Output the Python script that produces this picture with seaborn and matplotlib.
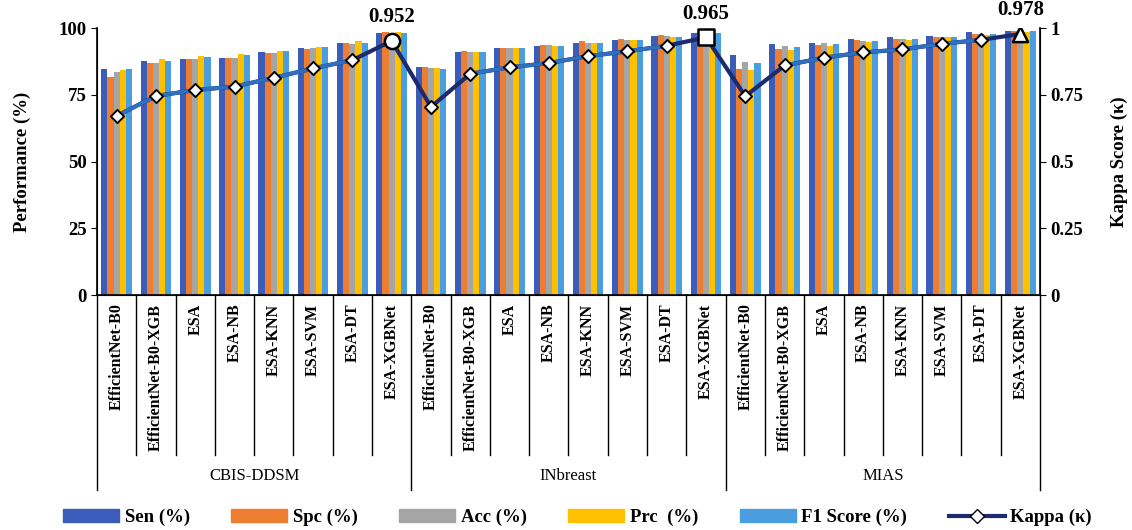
import numpy as np
import pandas as pd
import seaborn as sns
import matplotlib.pyplot as plt
from matplotlib.patches import Patch
from matplotlib.lines import Line2D
import matplotlib.transforms as mtransforms

datasets = ["CBIS-DDSM", "INbreast", "MIAS"]
models = ["EfficientNet-B0", "EfficientNet-B0-XGB", "ESA", "ESA-NB",
          "ESA-KNN", "ESA-SVM", "ESA-DT", "ESA-XGBNet"]
metrics = ["Sen (%)", "Spc (%)", "Acc (%)", "Prc  (%)", "F1 Score (%)"]

# values per dataset, rows = models, cols = Sen, Spc, Acc, Prc, F1
sen = [84.6, 87.6, 88.5, 88.9, 91.1, 92.6, 94.3, 98.0,
       85.3, 91.1, 92.6, 93.4, 94.3, 95.4, 96.9, 98.2,
       89.8, 94.0, 94.6, 95.8, 96.5, 97.1, 98.4, 98.9]
spc = [81.7, 86.8, 88.3, 88.9, 90.5, 92.1, 94.3, 98.4,
       85.3, 91.4, 92.6, 93.6, 95.1, 96.0, 97.3, 98.5,
       84.6, 92.0, 93.6, 95.4, 96.1, 96.8, 97.9, 98.8]
acc = [83.6, 87.1, 88.5, 88.9, 90.8, 92.4, 94.0, 98.0,
       85.0, 91.1, 92.5, 93.5, 94.6, 95.6, 96.9, 98.0,
       87.4, 93.3, 94.3, 95.3, 95.9, 96.8, 97.7, 98.5]
prc = [84.3, 88.5, 89.6, 90.4, 91.4, 93.0, 95.0, 98.4,
       84.9, 91.1, 92.4, 93.2, 94.5, 95.5, 96.5, 97.9,
       84.3, 91.8, 93.3, 94.8, 95.5, 96.5, 97.6, 98.5]
f1 = [84.5, 87.8, 89.3, 89.8, 91.4, 93.0, 94.6, 98.0,
      84.5, 91.1, 92.5, 93.2, 94.3, 95.5, 96.5, 98.2,
      86.8, 93.0, 94.0, 95.3, 96.1, 96.7, 97.7, 98.9]
kappa = [0.671, 0.746, 0.768, 0.781, 0.814, 0.849, 0.880, 0.952,
         0.705, 0.829, 0.853, 0.869, 0.895, 0.913, 0.934, 0.965,
         0.745, 0.860, 0.889, 0.909, 0.920, 0.941, 0.956, 0.978]

colors = ["#3b5cb8", "#ed7d31", "#a5a5a5", "#ffc000", "#4a9ee0"]
navy = "#1c2a6e"
light_line = "#2f6fbf"

plt.rcParams['font.family'] = ['Liberation Serif', 'DejaVu Serif']

keys = [f"{d}|{m}" for d in datasets for m in models]
rows = []
for vals, met in zip([sen, spc, acc, prc, f1], metrics):
    for k, v in zip(keys, vals):
        rows.append({"key": k, "metric": met, "value": v})
df = pd.DataFrame(rows)

fig = plt.figure(figsize=(11.32, 5.30), dpi=100)
ax = fig.add_axes([0.0857, 0.443, 0.833, 0.504])

sns.barplot(data=df, x="key", y="value", hue="metric", order=keys,
            hue_order=metrics, palette=colors, width=0.78, gap=0,
            saturation=1, ax=ax, legend=False)

ax.set_ylim(0, 100)
ax.set_xlim(-0.5, len(keys) - 0.5)
ax.set_yticks([0, 25, 50, 75, 100])
ax.set_yticklabels(["0", "25", "50", "75", "100"], fontsize=13.5, fontweight='bold')
ax.set_ylabel("Performance (%)", fontsize=13.5, fontweight='bold', labelpad=20)
ax.set_xlabel("")
ax.set_xticks(range(len(keys)))
ax.set_xticklabels([m for d in datasets for m in models], rotation=90,
                   fontsize=11.5, fontweight='bold', va='top')
ax.tick_params(axis='x', length=0, pad=6)
ax.tick_params(axis='y', direction='out', length=4)
ax.spines["top"].set_visible(False)
for s in ["left", "bottom", "right"]:
    ax.spines[s].set_color("black")
    ax.spines[s].set_linewidth(1.2)

# multi-level category separators
trans = mtransforms.blended_transform_factory(ax.transData, ax.transAxes)
n = len(models)
for i in range(len(keys) + 1):
    bottom = -0.73 if i % n == 0 else -0.60
    ax.plot([i - 0.5, i - 0.5], [0, bottom], color="black", lw=1,
            transform=trans, clip_on=False)
for j, d in enumerate(datasets):
    ax.text(j * n + (n - 1) / 2, -0.675, d, transform=trans, ha='center',
            va='center', fontsize=12)

# kappa line on secondary axis
ax2 = ax.twinx()
xs = np.arange(len(keys))
kdf = pd.DataFrame({"x": xs, "kappa": kappa})
sns.lineplot(data=kdf, x="x", y="kappa", color=navy, lw=3.0, ax=ax2, zorder=3)
# lighter segments inside each group
for j in range(len(datasets)):
    seg = kdf.iloc[j * n + (0 if j == 0 else 1): j * n + n - 1]
    sns.lineplot(data=seg, x="x", y="kappa", color=light_line, lw=2.8,
                 ax=ax2, zorder=4)
normal = kdf[(kdf["x"] % n) != n - 1]
ax2.scatter(normal["x"], normal["kappa"], marker="D", s=45, facecolor="white",
            edgecolor="black", linewidth=1.4, zorder=5)
best_markers = ["o", "s", "^"]
for j, mk in enumerate(best_markers):
    i = j * n + n - 1
    ax2.scatter([i], [kappa[i]], marker=mk, s=120, facecolor="white",
                edgecolor="black", linewidth=1.8, zorder=6)
    ax2.annotate(f"{kappa[i]:.3f}", (i, kappa[i]), xytext=(0, 10),
                 textcoords="offset points", ha='center', va='bottom',
                 fontsize=15, fontweight='bold')

ax2.set_ylim(0, 1)
ax2.set_yticks([0, 0.25, 0.5, 0.75, 1])
ax2.set_yticklabels(["0", "0.25", "0.5", "0.75", "1"], fontsize=13.5, fontweight='bold')
ax2.set_ylabel("Kappa Score (κ)", fontsize=13.5, fontweight='bold', labelpad=20)
ax2.set_xlabel("")
ax2.tick_params(axis='y', direction='out', length=4)
ax2.spines["top"].set_visible(False)
ax2.set_xlim(-0.5, len(keys) - 0.5)

handles = [Patch(facecolor=c, edgecolor=c) for c in colors]
handles.append(Line2D([0], [0], color=navy, lw=3.0, marker="D",
                      markerfacecolor="white", markeredgecolor="black", markersize=7))
fig.legend(handles, metrics + ["Kappa (κ)"], loc="lower center", ncol=6,
           bbox_to_anchor=(0.51, -0.025), frameon=False,
           prop={'weight': 'bold', 'size': 13.5}, handlelength=3.0,
           handleheight=0.7, columnspacing=2.2, handletextpad=0.3)

fig.savefig("out.png", dpi=100)
